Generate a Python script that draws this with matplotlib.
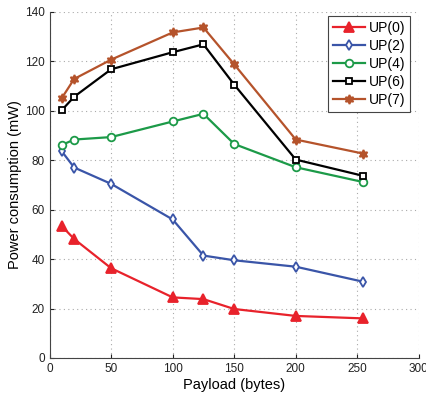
import numpy as np
import matplotlib
matplotlib.use("Agg")
import matplotlib.pyplot as plt

plt.rcParams['font.family'] = ['Liberation Sans', 'DejaVu Sans']

payload = [10, 20, 50, 100, 125, 150, 200, 255]
up0 = [53.3, 48.1, 36.3, 24.5, 23.8, 19.8, 17.0, 16.0]
up2 = [83.5, 77.0, 70.4, 56.0, 41.4, 39.5, 36.9, 30.8]
up4 = [86.1, 88.3, 89.3, 95.6, 98.7, 86.5, 77.1, 71.1]
up6 = [100.2, 105.6, 116.7, 123.6, 126.8, 110.5, 80.2, 73.6]
up7 = [105.1, 112.8, 120.6, 131.6, 133.6, 118.7, 88.3, 82.6]

labels = ['UP(0)', 'UP(2)', 'UP(4)', 'UP(6)', 'UP(7)']
series = [up0, up2, up4, up6, up7]
colors = ['#e8222b', '#3a55a8', '#1c9a48', '#000000', '#b5532b']
markers = ['^', 'd', 'o', 's', (6, 1, 0)]
faces = ['#e8222b', 'white', 'white', 'white', '#b5532b']
msizes = [6.5, 5.5, 5.5, 5, 6.5]

fig = plt.figure(figsize=(4.27, 3.94), dpi=100)
ax = fig.add_axes([0.116, 0.0914, 0.865, 0.879])

for y, lab, c, m, fc, ms in zip(series, labels, colors, markers, faces, msizes):
    ax.plot(payload, y, color=c, marker=m, markerfacecolor=fc, markeredgecolor=c,
            markersize=ms, markeredgewidth=1.3, linewidth=1.6, label=lab)

ax.set_xlim(0, 300)
ax.set_ylim(0, 140)
ax.set_xticks(np.arange(0, 301, 50))
ax.set_yticks(np.arange(0, 141, 20))
ax.grid(True, linestyle=(0, (1, 3)), color='#aaaaaa', linewidth=0.8)
for s in ['top', 'right']:
    ax.spines[s].set_visible(False)
for s in ['left', 'bottom']:
    ax.spines[s].set_color('#444444')
ax.tick_params(direction='in', length=3, labelsize=8.5, colors='#222222')
ax.set_xlabel('Payload (bytes)', fontsize=10.5, labelpad=2)
ax.set_ylabel('Power consumption (mW)', fontsize=10.5, labelpad=2)

leg = ax.legend(loc='upper right', bbox_to_anchor=(0.977, 0.988), borderaxespad=0,
                fontsize=10, fancybox=False, framealpha=1, edgecolor='#444444',
                handlelength=2.3, labelspacing=0.3, borderpad=0.35, handletextpad=0.3)
leg.get_frame().set_linewidth(0.8)

fig.savefig('out.png', dpi=100)
